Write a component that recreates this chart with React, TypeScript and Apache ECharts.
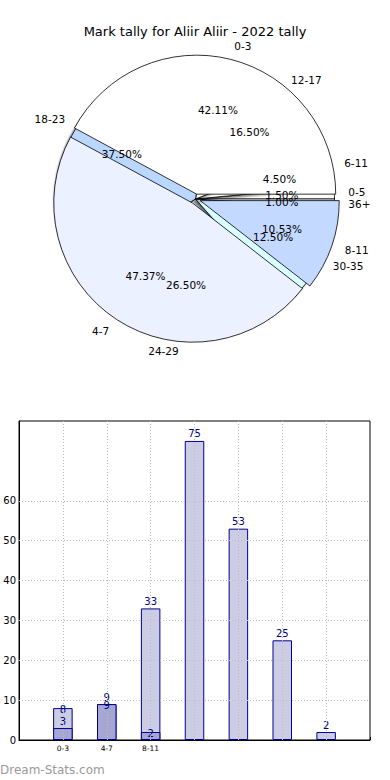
import React, { useEffect, useRef } from 'react';
import * as echarts from 'echarts';

const chartTitle = 'Mark tally for Aliir Aliir - 2022 tally';

const pieALabels = ['0-3', '4-7', '8-11'];
const pieAValues = [8, 9, 2];
const pieAColors = ['#FFFFFF', '#EBF1FF', '#C3D9FF'];

const pieBLabels = ['0-5', '6-11', '12-17', '18-23', '24-29', '30-35', '36+'];
const pieBValues = [3, 9, 33, 75, 53, 25, 2];
const pieBColors = ['#FFFFFF', '#FFFFFF', '#FFFFFF', '#B9D7FF', '#EBF1FF', '#DAFFFF', '#FFFFFF'];

const barCategories = ['0-3', '4-7', '8-11', '', '', '', ''];
const barTotals = [8, 9, 33, 75, 53, 25, 2];
const barSubset = [3, 9, 2, null, null, null, null];
const yTickValues = [0, 10, 20, 30, 40, 50, 60];

const watermark = 'Dream-Stats.com';

const FONT = 'DejaVu Sans';
const CX = 195.5;
const CY = 199;
const R = 139;

function pct(values: number[]) {
  const sum = values.reduce((a, b) => a + b, 0);
  return (p: any) => ((p.value / sum) * 100).toFixed(2) + '%';
}

export default function App() {
  const ref = useRef<HTMLDivElement>(null);

  useEffect(() => {
    document.body.style.margin = '0';
    if (!ref.current) return;
    const chart = echarts.init(ref.current, undefined, { renderer: 'svg' });

    const outerLabel = {
      show: true,
      position: 'outside',
      formatter: '{b}',
      color: '#000',
      fontFamily: FONT,
      fontSize: 10.5,
      distanceToLabelLine: 0,
    };
    const outerLabelLine = { show: false, length: R * 0.1, length2: 0 };
    const innerLabelBase = {
      show: true,
      position: 'inside',
      color: '#000',
      fontFamily: FONT,
      fontSize: 10.5,
    };
    const noHide = { hideOverlap: false };

    const padded = (arr: any[]) => [null, ...arr, null];

    const lightData = barTotals.map((v, i) =>
      i === 0 ? { value: v, label: { offset: [0, 8] } } : { value: v }
    );
    const darkData = barSubset.map((v, i) =>
      v == null ? null : i === 0 ? { value: v } : { value: v, label: { offset: [0, 8] } }
    );

    const gridLines = [
      ...yTickValues.filter((v) => v > 0).map((v) => ({ yAxis: v })),
      ...barTotals.map((_, i) => ({ xAxis: i + 1 })),
    ];

    chart.setOption({
      animation: false,
      title: {
        text: chartTitle,
        left: 'center',
        top: 20,
        textStyle: { fontFamily: FONT, fontSize: 13, fontWeight: 'normal', color: '#000' },
      },
      graphic: [
        {
          type: 'text',
          left: 0,
          top: 764,
          style: { text: watermark, fill: '#9a9a9a', font: `12px "${FONT}"` },
        },
      ],
      grid: {
        left: 19,
        top: 421,
        width: 351,
        height: 319,
        show: true,
        borderColor: '#000',
        borderWidth: 1,
      },
      xAxis: {
        type: 'category',
        data: padded(barCategories).map((c) => (c == null ? '' : c)),
        boundaryGap: false,
        axisLine: { show: true, lineStyle: { color: '#000', width: 1 } },
        axisTick: { show: true, inside: true, length: 3, lineStyle: { color: '#000' } },
        axisLabel: { color: '#000', fontFamily: FONT, fontSize: 7.5, margin: 4, interval: 0 },
        splitLine: { show: false },
      },
      yAxis: {
        type: 'value',
        min: 0,
        max: 80,
        interval: 10,
        axisLine: { show: true, lineStyle: { color: '#000', width: 1 } },
        axisTick: { show: false },
        axisLabel: {
          color: '#000',
          fontFamily: FONT,
          fontSize: 10,
          margin: 3,
          formatter: (v: number) => (yTickValues.includes(v) ? String(v) : ''),
        },
        splitLine: { show: false },
      },
      series: [
        {
          type: 'pie',
          z: 1,
          center: [CX, CY],
          radius: [0, R],
          startAngle: 0,
          clockwise: false,
          avoidLabelOverlap: false,
          labelLayout: noHide,
          silent: true,
          label: outerLabel,
          labelLine: outerLabelLine,
          itemStyle: {
            borderColor: '#000',
            borderWidth: 0.8,
            shadowBlur: 2,
            shadowColor: 'rgba(0,0,0,0.55)',
            shadowOffsetX: -2,
            shadowOffsetY: 2,
          },
          emphasis: { disabled: true },
          data: pieBLabels.map((n, i) => ({ name: n, value: pieBValues[i], itemStyle: { color: pieBColors[i] } })),
        },
        {
          type: 'pie',
          z: 3,
          center: [CX, CY],
          radius: [0, R],
          startAngle: 0,
          clockwise: false,
          avoidLabelOverlap: false,
          labelLayout: noHide,
          silent: true,
          selectedMode: 'multiple',
          selectedOffset: 5,
          label: outerLabel,
          labelLine: outerLabelLine,
          itemStyle: { borderColor: '#000', borderWidth: 0.8 },
          select: { itemStyle: { borderColor: '#000', borderWidth: 0.8 } },
          emphasis: { disabled: true },
          data: pieALabels.map((n, i) => ({
            name: n,
            value: pieAValues[i],
            selected: true,
            itemStyle: { color: pieAColors[i] },
          })),
        },
        {
          type: 'pie',
          z: 5,
          center: [CX, CY],
          radius: [0, R * 1.2],
          startAngle: 0,
          clockwise: false,
          avoidLabelOverlap: false,
          labelLayout: noHide,
          silent: true,
          label: { ...innerLabelBase, formatter: pct(pieBValues) },
          labelLine: { show: false },
          itemStyle: { color: 'rgba(0,0,0,0)', borderWidth: 0 },
          emphasis: { disabled: true },
          data: pieBLabels.map((n, i) => ({ name: n, value: pieBValues[i] })),
        },
        {
          type: 'pie',
          z: 5,
          center: [CX, CY],
          radius: [0, R * 1.2],
          startAngle: 0,
          clockwise: false,
          avoidLabelOverlap: false,
          labelLayout: noHide,
          silent: true,
          selectedMode: 'multiple',
          selectedOffset: 5,
          label: { ...innerLabelBase, formatter: pct(pieAValues) },
          labelLine: { show: false },
          itemStyle: { color: 'rgba(0,0,0,0)', borderWidth: 0 },
          select: { itemStyle: { color: 'rgba(0,0,0,0)', borderWidth: 0 } },
          emphasis: { disabled: true },
          data: pieALabels.map((n, i) => ({ name: n, value: pieAValues[i], selected: true })),
        },
        {
          type: 'bar',
          barWidth: 19.5,
          z: 2,
          silent: true,
          itemStyle: { color: '#CCCCE5', borderColor: '#00008F', borderWidth: 1 },
          label: {
            show: true,
            position: 'top',
            distance: 2,
            color: '#000080',
            fontFamily: FONT,
            fontSize: 10,
          },
          data: padded(lightData),
        },
        {
          type: 'bar',
          barWidth: 19.5,
          barGap: '-100%',
          z: 3,
          silent: true,
          itemStyle: { color: '#A6A6D2', borderColor: '#00008F', borderWidth: 1 },
          label: {
            show: true,
            position: 'top',
            distance: 2,
            color: '#000080',
            fontFamily: FONT,
            fontSize: 10,
          },
          data: padded(darkData),
          markLine: {
            silent: true,
            symbol: ['none', 'none'],
            label: { show: false },
            lineStyle: { type: [1, 2], color: '#bdbdbd', width: 1 },
            emphasis: { disabled: true },
            data: gridLines,
          },
        },
      ],
    });

    return () => chart.dispose();
  }, []);

  return <div ref={ref} style={{ width: 390, height: 780 }} />;
}
